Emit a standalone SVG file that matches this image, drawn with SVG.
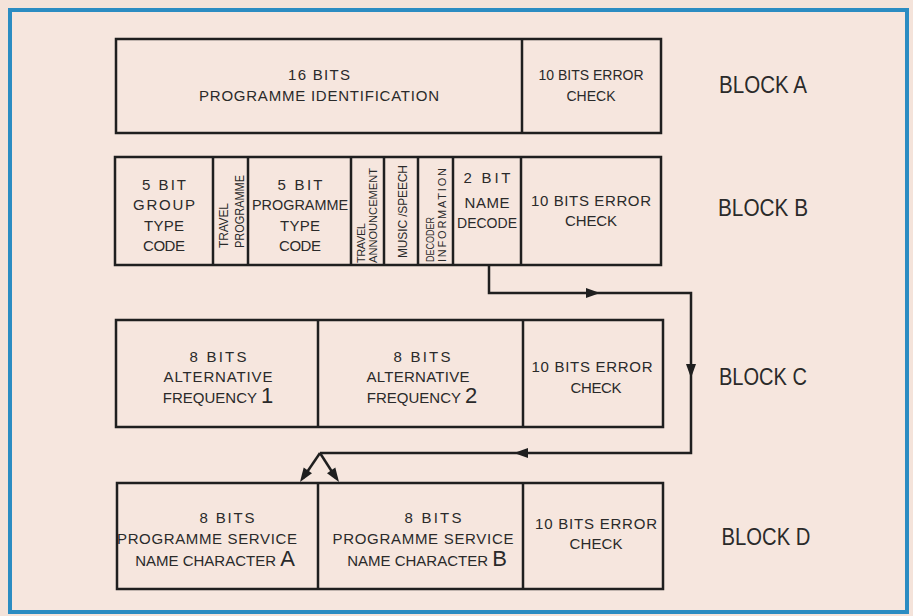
<svg xmlns="http://www.w3.org/2000/svg" width="913" height="616" viewBox="0 0 913 616">
<defs>
<style>
.bx{fill:none;stroke:#1f1f1f;stroke-width:2.5}
.dv{stroke:#1f1f1f;stroke-width:2.5}
.t{font-family:"Liberation Sans","DejaVu Sans",Arial,sans-serif;fill:#2a2a2a;font-size:15px;text-anchor:middle}
.s{font-family:"Liberation Sans","DejaVu Sans",Arial,sans-serif;fill:#2a2a2a;font-size:12px;text-anchor:start}
.lb{font-family:"Liberation Sans","DejaVu Sans",Arial,sans-serif;fill:#2a2a2a;font-size:23px;text-anchor:middle}
.ln{fill:none;stroke:#1f1f1f;stroke-width:2.5;stroke-linejoin:miter}
</style>
<path id="ah" d="M0,0 L-14,-5 L-14,5 Z" fill="#1f1f1f"/>
</defs>
<rect x="0" y="0" width="913" height="616" fill="#f4e3da"/>
<rect x="10" y="10" width="897" height="602" fill="#f6e6de" stroke="#2b8cc2" stroke-width="4"/>

<g id="blockA">
<rect class="bx" x="116" y="39" width="545" height="94"/>
<line class="dv" x1="522" y1="39" x2="522" y2="133"/>
<text class="t" x="319" y="80" textLength="62">16 BITS</text>
<text class="t" x="319" y="101" textLength="240">PROGRAMME IDENTIFICATION</text>
<text class="t" style="font-size:14px" x="591" y="80">10 BITS ERROR</text>
<text class="t" style="font-size:14px" x="591" y="101">CHECK</text>
<text class="lb" x="763" y="93" textLength="88" lengthAdjust="spacingAndGlyphs">BLOCK  A</text>
</g>

<g id="blockB">
<rect class="bx" x="115" y="157" width="546" height="108"/>
<line class="dv" x1="213" y1="157" x2="213" y2="265"/>
<line class="dv" x1="248" y1="157" x2="248" y2="265"/>
<line class="dv" x1="351" y1="157" x2="351" y2="265"/>
<line class="dv" x1="384" y1="157" x2="384" y2="265"/>
<line class="dv" x1="418" y1="157" x2="418" y2="265"/>
<line class="dv" x1="453" y1="157" x2="453" y2="265"/>
<line class="dv" x1="521" y1="157" x2="521" y2="265"/>
<text class="t" x="164" y="190" textLength="44">5 BIT</text>
<text class="t" x="164" y="210" textLength="62">GROUP</text>
<text class="t" x="164" y="231" textLength="40">TYPE</text>
<text class="t" x="164" y="251" textLength="42">CODE</text>
<text class="s" transform="translate(228,248) rotate(-90)" textLength="45">TRAVEL</text>
<text class="s" transform="translate(244,248) rotate(-90)" textLength="73" lengthAdjust="spacingAndGlyphs">PROGRAMME</text>
<text class="t" x="300" y="190" textLength="45">5 BIT</text>
<text class="t" x="300" y="210" textLength="96" lengthAdjust="spacingAndGlyphs">PROGRAMME</text>
<text class="t" x="300" y="231" textLength="40">TYPE</text>
<text class="t" x="300" y="251" textLength="42">CODE</text>
<text class="s" style="font-size:11px" transform="translate(365,263) rotate(-90)" textLength="40">TRAVEL</text>
<text class="s" style="font-size:11px" transform="translate(377,263) rotate(-90)" textLength="95" lengthAdjust="spacingAndGlyphs">ANNOUNCEMENT</text>
<text class="s" transform="translate(407,258) rotate(-90)" textLength="93">MUSIC /SPEECH</text>
<text class="s" style="font-size:11px" transform="translate(434,262) rotate(-90)" textLength="45" lengthAdjust="spacingAndGlyphs">DECODER</text>
<text class="s" style="font-size:11px" transform="translate(446,262) rotate(-90)" textLength="94">INFORMATION</text>
<text class="t" x="487" y="183" textLength="47">2 BIT</text>
<text class="t" x="487" y="208" textLength="45">NAME</text>
<text class="t" x="487" y="228" textLength="60" lengthAdjust="spacingAndGlyphs">DECODE</text>
<text class="t" x="591" y="206" textLength="120">10 BITS ERROR</text>
<text class="t" x="591" y="226" textLength="52">CHECK</text>
<text class="lb" x="763" y="216" textLength="90" lengthAdjust="spacingAndGlyphs">BLOCK  B</text>
</g>

<g id="blockC">
<rect class="bx" x="116" y="320" width="547" height="107"/>
<line class="dv" x1="318" y1="320" x2="318" y2="427"/>
<line class="dv" x1="523" y1="320" x2="523" y2="427"/>
<text class="t" x="218" y="362" textLength="57">8 BITS</text>
<text class="t" x="218" y="382" textLength="109">ALTERNATIVE</text>
<text class="t" x="218" y="403">FREQUENCY <tspan style="font-size:22px">1</tspan></text>
<text class="t" x="422" y="362" textLength="57">8 BITS</text>
<text class="t" x="418" y="382" textLength="103">ALTERNATIVE</text>
<text class="t" x="422" y="403">FREQUENCY <tspan style="font-size:22px">2</tspan></text>
<text class="t" x="592" y="372" textLength="121">10 BITS ERROR</text>
<text class="t" x="596" y="393" textLength="51">CHECK</text>
<text class="lb" x="763" y="385" textLength="88" lengthAdjust="spacingAndGlyphs">BLOCK  C</text>
</g>

<g id="blockD">
<rect class="bx" x="117" y="483" width="546" height="106"/>
<line class="dv" x1="318" y1="483" x2="318" y2="589"/>
<line class="dv" x1="523" y1="483" x2="523" y2="589"/>
<text class="t" x="227" y="523" textLength="55">8 BITS</text>
<text class="t" x="207" y="544" textLength="180">PROGRAMME SERVICE</text>
<text class="t" x="215" y="566">NAME CHARACTER <tspan style="font-size:22px">A</tspan></text>
<text class="t" x="433" y="523" textLength="57">8 BITS</text>
<text class="t" x="423" y="544" textLength="181">PROGRAMME SERVICE</text>
<text class="t" x="427" y="566">NAME CHARACTER <tspan style="font-size:22px">B</tspan></text>
<text class="t" x="596" y="529" textLength="122">10 BITS ERROR</text>
<text class="t" x="596" y="549" textLength="53">CHECK</text>
<text class="lb" x="766" y="545" textLength="89" lengthAdjust="spacingAndGlyphs">BLOCK  D</text>
</g>

<g id="connectors">
<path class="ln" d="M489,265 V293 H691 V453 H320"/>
<path class="ln" d="M320,453 L303,478"/>
<path class="ln" d="M320,453 L336,478"/>
<use href="#ah" transform="translate(600,293)"/>
<use href="#ah" transform="translate(691,378) rotate(90)"/>
<use href="#ah" transform="translate(514,453) rotate(180)"/>
<use href="#ah" transform="translate(300,482) rotate(124)"/>
<use href="#ah" transform="translate(339,482) rotate(56)"/>
</g>
</svg>
